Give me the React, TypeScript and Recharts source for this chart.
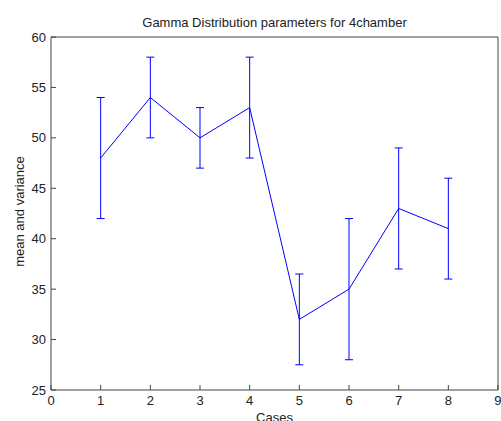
import React from 'react';
import { LineChart, Line, XAxis, YAxis, ErrorBar, Label } from 'recharts';

const cases = [1, 2, 3, 4, 5, 6, 7, 8];
const means = [48, 54, 50, 53, 32, 35, 43, 41];
const errors = [6, 4, 3, 5, 4.5, 7, 6, 5];
const xTicks = [0, 1, 2, 3, 4, 5, 6, 7, 8, 9];
const yTicks = [25, 30, 35, 40, 45, 50, 55, 60];

const data = cases.map((c, i) => ({ x: c, mean: means[i], err: errors[i] }));

const FONT = '"Liberation Sans", Arial, sans-serif';
const AXIS = '#444';
const TXT = '#222';
const BLUE = '#0000ff';

const YLabel = (props: any) => {
  const vb = props.viewBox || {};
  const cx = 24;
  const cy = vb.y + vb.height / 2 - 2;
  return (
    <text
      x={cx}
      y={cy}
      transform={`rotate(-90 ${cx} ${cy})`}
      textAnchor="middle"
      fontSize={13}
      fontFamily={FONT}
      fill={TXT}
    >
      mean and variance
    </text>
  );
};

export default function App() {
  return (
    <div style={{ position: 'absolute', left: 0, top: 0, background: '#fff' }}>
      <LineChart
        width={501}
        height={421}
        data={data}
        margin={{ top: 36, right: 2, bottom: 0, left: 6 }}
      >
        <XAxis
          dataKey="x"
          type="number"
          domain={[0, 9]}
          ticks={xTicks}
          allowDataOverflow
          height={31}
          tickSize={-5}
          tickMargin={11}
          stroke={AXIS}
          tickLine={{ stroke: AXIS }}
          tick={{ fontSize: 13, fill: TXT, fontFamily: FONT }}
        >
          <Label
            value="Cases"
            position="insideBottom"
            offset={-1}
            style={{ fontSize: 13, fill: TXT, fontFamily: FONT }}
          />
        </XAxis>
        <XAxis
          xAxisId="top"
          orientation="top"
          dataKey="x"
          type="number"
          domain={[0, 9]}
          ticks={xTicks}
          allowDataOverflow
          height={1}
          tickSize={-5}
          tick={false}
          stroke={AXIS}
          tickLine={{ stroke: AXIS }}
        >
          <Label
            value="Gamma Distribution parameters for 4chamber"
            position="top"
            offset={9}
            style={{ fontSize: 13, fill: TXT, fontFamily: FONT }}
          />
        </XAxis>
        <YAxis
          type="number"
          domain={[25, 60]}
          ticks={yTicks}
          allowDataOverflow
          width={45}
          tickSize={-5}
          tickMargin={10}
          stroke={AXIS}
          tickLine={{ stroke: AXIS }}
          tick={{ fontSize: 13, fill: TXT, fontFamily: FONT }}
        >
          <Label content={YLabel} />
        </YAxis>
        <YAxis
          yAxisId="right"
          orientation="right"
          type="number"
          domain={[25, 60]}
          ticks={yTicks}
          allowDataOverflow
          width={1}
          tickSize={-5}
          tick={false}
          stroke={AXIS}
          tickLine={{ stroke: AXIS }}
        />
        <Line
          type="linear"
          dataKey="mean"
          stroke={BLUE}
          strokeWidth={1}
          dot={false}
          isAnimationActive={false}
        >
          <ErrorBar dataKey="err" width={4} stroke={BLUE} strokeWidth={1} direction="y" />
        </Line>
      </LineChart>
    </div>
  );
}
